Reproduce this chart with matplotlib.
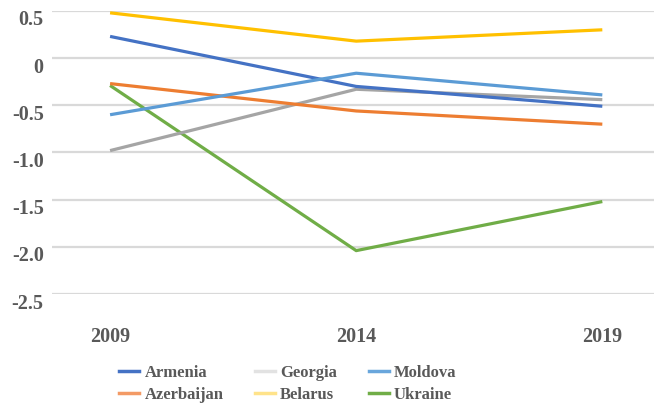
import matplotlib
matplotlib.use("Agg")
import matplotlib.pyplot as plt
from matplotlib.lines import Line2D
from matplotlib.transforms import ScaledTranslation

# values
years = ["2009", "2014", "2019"]
armenia = [0.23, -0.30, -0.51]
azerbaijan = [-0.27, -0.56, -0.70]
georgia = [-0.98, -0.33, -0.44]
belarus = [0.48, 0.18, 0.30]
moldova = [-0.60, -0.16, -0.39]
ukraine = [-0.29, -2.04, -1.52]
y_ticks = [0.5, 0, -0.5, -1.0, -1.5, -2.0, -2.5]
y_labels = ["0.5", "0", "-0.5", "-1.0", "-1.5", "-2.0", "-2.5"]

# (name, values, line colour, legend swatch colour)
series = [
    ("Armenia", armenia, "#4472C4", "#4472C4"),
    ("Azerbaijan", azerbaijan, "#ED7D31", "#F39A65"),
    ("Georgia", georgia, "#A5A5A5", "#E2E2E2"),
    ("Belarus", belarus, "#FFC000", "#FFE38A"),
    ("Moldova", moldova, "#5B9BD5", "#69A6DC"),
    ("Ukraine", ukraine, "#70AD47", "#70AD47"),
]

plt.rcParams["font.family"] = ["Liberation Serif", "DejaVu Serif"]
text_color = "#595959"

fig = plt.figure(figsize=(6.54, 4.05), dpi=100)
ax = fig.add_axes([0.0795, 0.274, 0.9205, 0.699])

x = list(range(len(years)))
# draw in an order so that the layering resembles the original
for name, vals, color, _ in [series[i] for i in (5, 2, 1, 3, 0, 4)]:
    ax.plot(x, vals, color=color, lw=2.3, solid_capstyle="butt", zorder=3)

ax.set_xlim(-0.236, 2.21)
ax.set_ylim(-2.5, 0.5)
ax.set_yticks(y_ticks)
ax.set_yticklabels(y_labels)
ax.set_xticks(x)
ax.set_xticklabels(years)
ax.grid(axis="y", color="#D9D9D9", lw=1.6, zorder=0)
ax.set_axisbelow(True)
for s in ax.spines.values():
    s.set_visible(False)
ax.tick_params(axis="both", length=0, labelsize=14.5, labelcolor=text_color)
ax.tick_params(axis="y", pad=6)
ax.tick_params(axis="x", pad=24)
for lab in ax.get_yticklabels() + ax.get_xticklabels():
    lab.set_fontweight("bold")
offset = ScaledTranslation(0, -7 / 100, fig.dpi_scale_trans)
for lab in ax.get_yticklabels():
    lab.set_transform(lab.get_transform() + offset)

handles = [Line2D([0], [0], color=sw, lw=2.5) for _, _, _, sw in series]
labels = [name for name, _, _, _ in series]
leg = fig.legend(handles, labels, ncol=3, loc="center",
                 bbox_to_anchor=(0.44, 0.052), frameon=False,
                 prop={"weight": "bold", "size": 12},
                 handlelength=1.2, handletextpad=0.3, columnspacing=1.9,
                 labelspacing=0.35, borderpad=0)
for t in leg.get_texts():
    t.set_color(text_color)

fig.savefig("out.png", dpi=100)
